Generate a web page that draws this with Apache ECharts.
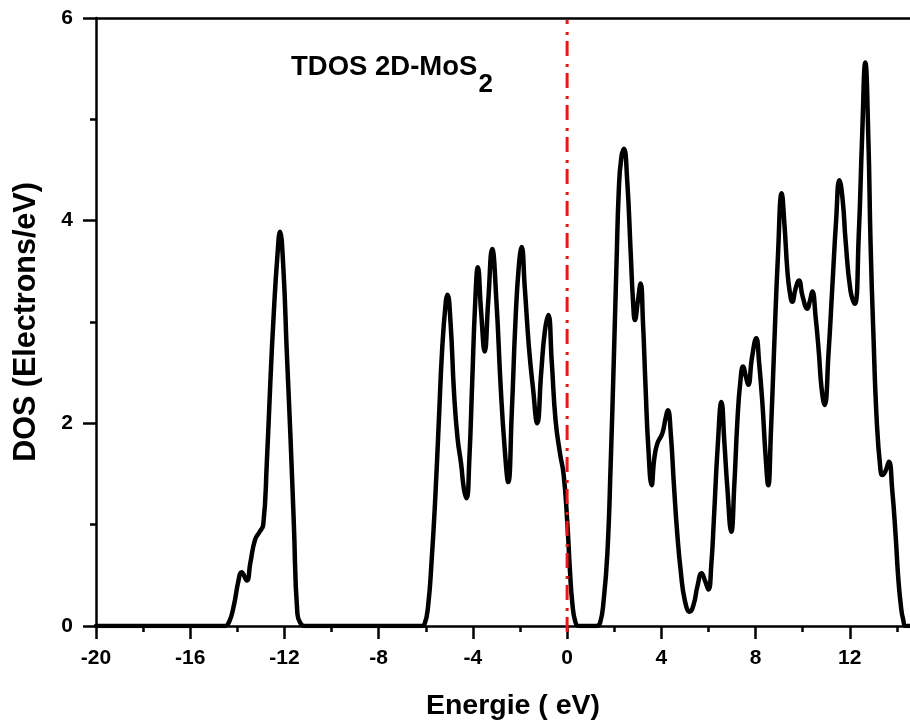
<!DOCTYPE html>
<html>
<head>
<meta charset="utf-8">
<title>TDOS 2D-MoS2</title>
<script src="https://cdn.jsdelivr.net/npm/echarts@6/dist/echarts.min.js"></script>
<style>
  html, body { margin: 0; padding: 0; background: #ffffff; overflow: hidden; }
  /* the plot frame runs past the right edge of the window, as in the printed figure */
  #chart { width: 944px; height: 724px; }
</style>
</head>
<body>
<div id="chart"></div>
<script>
// Energy grid (eV) and total density of states (electrons/eV)
const energy = [
  -20, -14.55, -14.35, -14.15, -13.95, -13.82, -13.6, -13.45, -13.25, -13.05, -12.9,
  -12.75, -12.6, -12.45, -12.3, -12.19, -12.05, -11.9, -11.75, -11.6, -11.45, -11.3, -11.15,
  -6.2, -6.05, -5.9, -5.75, -5.6, -5.45, -5.3, -5.15, -5.08, -4.95, -4.8, -4.65, -4.5, -4.38,
  -4.27, -4.15, -4.03, -3.9, -3.79, -3.65, -3.5, -3.35, -3.18, -3.0, -2.82, -2.65, -2.5,
  -2.35, -2.19, -2.05, -1.93, -1.8, -1.62, -1.45, -1.27, -1.1, -0.95, -0.8, -0.65, -0.49,
  -0.3, -0.15, 0.0, 0.12, 0.22, 0.35, 0.5,
  1.25, 1.4, 1.55, 1.71, 1.85, 1.99, 2.1, 2.2, 2.3, 2.41, 2.55, 2.7, 2.8, 2.88, 3.0, 3.12,
  3.22, 3.33, 3.45, 3.59, 3.7, 3.83, 4.04, 4.18, 4.28, 4.4, 4.54, 4.68, 4.82, 5.0, 5.21,
  5.38, 5.53, 5.71, 5.85, 6.0, 6.12, 6.23, 6.4, 6.55, 6.68, 6.8, 6.97, 7.1, 7.23, 7.35,
  7.47, 7.6, 7.69, 7.85, 8.03, 8.15, 8.29, 8.42, 8.54, 8.65, 8.78, 8.95, 9.11, 9.23, 9.35,
  9.45, 9.56, 9.7, 9.84, 10.0, 10.2, 10.3, 10.41, 10.55, 10.69, 10.8, 10.93, 11.1, 11.26,
  11.42, 11.56, 11.7, 11.82, 12.03, 12.21, 12.38, 12.52, 12.66, 12.79, 12.88, 13.0, 13.15,
  13.3, 13.38, 13.5, 13.66, 13.8, 13.95, 14.05, 14.16, 14.27, 14.4, 16
];
const dos = [
  0, 0, 0.04, 0.2, 0.45, 0.53, 0.45, 0.62, 0.85, 0.93, 1.0,
  1.6, 2.4, 3.1, 3.65, 3.89, 3.55, 2.7, 1.9, 1.0, 0.12, 0.02, 0,
  0, 0.02, 0.2, 0.65, 1.25, 2.0, 2.75, 3.2, 3.27, 3.0, 2.3, 1.85, 1.6, 1.35,
  1.26, 1.65, 2.4, 3.2, 3.54, 3.1, 2.71, 3.2, 3.72, 3.2, 2.36, 1.75, 1.42,
  2.1, 3.02, 3.55, 3.74, 3.35, 2.75, 2.35, 2.0, 2.5, 2.9, 3.07, 2.6, 2.03,
  1.7, 1.5, 1.05, 0.55, 0.23, 0.04, 0,
  0, 0.03, 0.25, 0.72, 1.6, 2.69, 3.6, 4.33, 4.62, 4.71, 4.4, 3.68, 3.2, 3.02, 3.2, 3.38,
  3.0, 2.36, 1.75, 1.39, 1.65, 1.8, 1.9, 2.05, 2.13, 1.9, 1.37, 0.9, 0.55, 0.25, 0.14,
  0.22, 0.39, 0.52, 0.45, 0.36, 0.6, 1.05, 1.8, 2.21, 1.8, 1.37, 0.93, 1.4, 2.03, 2.4,
  2.56, 2.45, 2.38, 2.65, 2.84, 2.6, 2.2, 1.7, 1.39, 1.9, 2.69, 3.65, 4.27, 3.95, 3.51,
  3.3, 3.2, 3.33, 3.41, 3.25, 3.13, 3.2, 3.3, 3.05, 2.69, 2.35, 2.18, 2.7, 3.35,
  4.0, 4.4, 4.2, 3.81, 3.31, 3.18, 3.85, 4.8, 5.56, 4.8, 3.8, 2.9, 2.0,
  1.55, 1.49, 1.52, 1.62, 1.35, 0.88, 0.5, 0.22, 0.06, 0, 0
];

// Axis settings
const xTicks = [-20, -16, -12, -8, -4, 0, 4, 8, 12];
const yTicks = [0, 2, 4, 6];
const fermiLevel = 0;
const fermiSpan = [-0.06, 5.98];

const titleMain = 'TDOS 2D-MoS';
const titleSub = '2';
const xName = 'Energie ( eV)';
const yName = 'DOS (Electrons/eV)';

const FONT = 'Arial, "Liberation Sans", Helvetica, sans-serif';

const points = energy.map((e, i) => [e, dos[i]]);
const fermiLine = fermiSpan.map(v => [fermiLevel, v]);

const chart = echarts.init(document.getElementById('chart'), null, { renderer: 'canvas' });

chart.setOption({
  backgroundColor: '#ffffff',
  animation: false,
  title: {
    text: '{a|' + titleMain + '}{b|' + titleSub + '}',
    left: 291,
    top: 53,
    padding: 0,
    textStyle: {
      rich: {
        a: { fontFamily: FONT, fontWeight: 'bold', fontSize: 27.5, color: '#000', verticalAlign: 'top', lineHeight: 28 },
        b: { fontFamily: FONT, fontWeight: 'bold', fontSize: 26, color: '#000', verticalAlign: 'top', padding: [19, 0, 0, 1], lineHeight: 26 }
      }
    }
  },
  grid: { left: 96, top: 18, bottom: 98, right: 0, containLabel: false, outerBoundsMode: 'none' },
  xAxis: [
    {
      type: 'value',
      position: 'bottom',
      min: -20,
      max: 16,
      interval: 4,
      name: xName,
      nameLocation: 'middle',
      nameGap: 66,
      nameTextStyle: { fontFamily: FONT, fontWeight: 'bold', fontSize: 28.5, color: '#000', padding: [0, 14, 0, 0] },
      axisLine: { show: true, onZero: false, lineStyle: { color: '#000', width: 2.5 } },
      axisTick: { show: true, inside: false, length: 13, lineStyle: { color: '#000', width: 2.5 } },
      minorTick: { show: true, splitNumber: 2, length: 6, lineStyle: { color: '#000', width: 2.5 } },
      axisLabel: {
        show: true, margin: 22,
        fontFamily: FONT, fontWeight: 'bold', fontSize: 21, color: '#000',
        formatter: v => (xTicks.indexOf(v) >= 0 ? String(v) : '')
      },
      splitLine: { show: false }
    },
    {
      type: 'value',
      position: 'top',
      min: -20,
      max: 16,
      axisLine: { show: true, onZero: false, lineStyle: { color: '#000', width: 2.5 } },
      axisTick: { show: false },
      axisLabel: { show: false },
      splitLine: { show: false }
    }
  ],
  yAxis: {
    type: 'value',
    min: 0,
    max: 6,
    interval: 2,
    name: yName,
    nameLocation: 'middle',
    nameGap: 54,
    nameTextStyle: { fontFamily: FONT, fontWeight: 'bold', fontSize: 30.5, color: '#000' },
    axisLine: { show: true, onZero: false, lineStyle: { color: '#000', width: 2.5 } },
    axisTick: { show: true, inside: false, length: 13, lineStyle: { color: '#000', width: 2.5 } },
    minorTick: { show: true, splitNumber: 2, length: 6, lineStyle: { color: '#000', width: 2.5 } },
    axisLabel: {
      show: true, margin: 23,
      fontFamily: FONT, fontWeight: 'bold', fontSize: 21, color: '#000',
      formatter: v => (yTicks.indexOf(v) >= 0 ? String(v) : '')
    },
    splitLine: { show: false }
  },
  series: [
    {
      name: 'TDOS',
      type: 'line',
      data: points,
      showSymbol: false,
      smooth: 0.5,
      clip: true,
      z: 2,
      lineStyle: { color: '#000', width: 4.5, join: 'round', cap: 'round' }
    },
    {
      name: 'Fermi',
      type: 'line',
      data: fermiLine,
      showSymbol: false,
      clip: false,
      z: 5,
      lineStyle: { color: '#e3191c', width: 3, type: [15, 6, 3, 8] }
    }
  ]
});
</script>
</body>
</html>
